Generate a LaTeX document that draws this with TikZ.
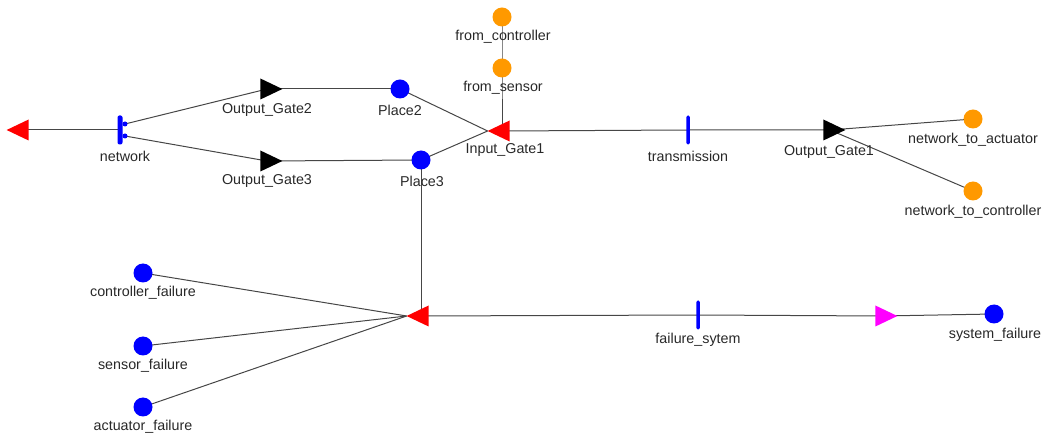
\documentclass[tikz,border=0pt]{standalone}
\usepackage{fontspec}
\setmainfont{Liberation Sans}
\usetikzlibrary{shapes.geometric,backgrounds}
\definecolor{pblue}{RGB}{0,0,255}
\definecolor{pred}{RGB}{255,0,0}
\definecolor{porange}{RGB}{255,153,0}
\definecolor{pmag}{RGB}{255,0,255}
\definecolor{lnc}{RGB}{70,70,70}
\definecolor{txc}{RGB}{40,40,40}
\tikzset{
  place/.style={circle,fill=pblue,inner sep=0pt,minimum size=19pt},
  oplace/.style={circle,fill=porange,inner sep=0pt,minimum size=19pt},
  trans/.style={rectangle,rounded corners=1.5pt,fill=pblue,inner sep=0pt,minimum width=3.5pt,minimum height=29pt},
  dotp/.style={circle,fill=pblue,inner sep=0pt,minimum size=5pt},
  tri/.style={isosceles triangle,isosceles triangle stretches,inner sep=0pt,outer sep=0pt,minimum width=21pt,minimum height=22pt},
  trileft/.style={tri,shape border rotate=180,fill=pred},
  triright/.style={tri,fill=black},
  lbl/.style={text=txc,inner sep=0pt,font=\fontsize{14.3}{16}\selectfont},
  conn/.style={draw=lnc,line width=1pt}
}
\begin{document}
\begin{tikzpicture}[x=1pt,y=-1pt]
\useasboundingbox (0,0) rectangle (1047,435);
% nodes
\node[trileft] (lt) at (22,130) {};
\node[trans,minimum width=5pt,rounded corners=2pt] (net) at (120,130) {};
\node[dotp] (netA) at (125,124) {};
\node[dotp] (netB) at (125,136) {};
\node[lbl] (lnet) at (125,156) {network};
\node[triright] (og2) at (267,89) {};
\node[lbl] (log2) at (267,110) {Output\_Gate2};
\node[triright] (og3) at (267,161) {};
\node[lbl] (log3) at (267,181) {Output\_Gate3};
\node[place] (p2) at (400,89) {};
\node[lbl] (lp2) at (400,110) {Place2};
\node[place] (p3) at (421,160) {};
\node[lbl] (lp3) at (422,181) {Place3};
\node[trileft] (ig1) at (503,131) {};
\node[lbl] (lig1) at (505,150) {Input\_Gate1};
\node[oplace] (fc) at (502,17) {};
\node[lbl] (lfc) at (503,37) {from\_controller};
\node[oplace] (fs) at (502,68) {};
\node[lbl] (lfs) at (503,88) {from\_sensor};
\node[trans] (tr) at (688,130) {};
\node[lbl] (ltr) at (688,156) {transmission};
\node[triright] (og1) at (830,130) {};
\node[lbl] (log1) at (829,152) {Output\_Gate1};
\node[oplace] (nta) at (973,119) {};
\node[lbl] (lnta) at (973,140) {network\_to\_actuator};
\node[oplace] (ntc) at (973,191) {};
\node[lbl] (lntc) at (973,212) {network\_to\_controller};
\node[trileft] (fg) at (422,316) {};
\node[place] (cf) at (143,273) {};
\node[lbl] (lcf) at (143,293) {controller\_failure};
\node[place] (sf) at (143,346) {};
\node[lbl] (lsf) at (143,366) {sensor\_failure};
\node[place] (af) at (143,407) {};
\node[lbl] (laf) at (143,427) {actuator\_failure};
\node[trans] (fsy) at (698,315) {};
\node[lbl] (lfsy) at (698,340) {failure\_sytem};
\node[tri,fill=pmag] (mg) at (882,316) {};
\node[place] (sysf) at (994,314) {};
\node[lbl] (lsysf) at (995,335) {system\_failure};
% connectors
\begin{scope}[on background layer]
\draw[conn] (lt.center) -- (net.center);
\draw[conn] (netA.center) -- (og2.center);
\draw[conn] (netB.center) -- (og3.center);
\draw[conn] (og2.center) -- (p2.center);
\draw[conn] (og3.center) -- (p3.center);
\draw[conn] (p2.center) -- (ig1.west);
\draw[conn] (p3.center) -- (ig1.west);
\draw[conn] (fc.center) -- (fs.center) -- (fs.center |- ig1.center);
\draw[conn] (ig1.center) -- (tr.center) -- (og1.center);
\draw[conn] (og1.center) -- (nta.center);
\draw[conn] (og1.center) -- (ntc.center);
\draw[conn] (p3.center) -- (p3.center |- fg.center);
\draw[conn] (cf.center) -- (fg.west);
\draw[conn] (sf.center) -- (fg.west);
\draw[conn] (af.center) -- (fg.west);
\draw[conn] (fg.center) -- (fsy.center) -- (mg.center) -- (sysf.center);
\end{scope}
\end{tikzpicture}
\end{document}
